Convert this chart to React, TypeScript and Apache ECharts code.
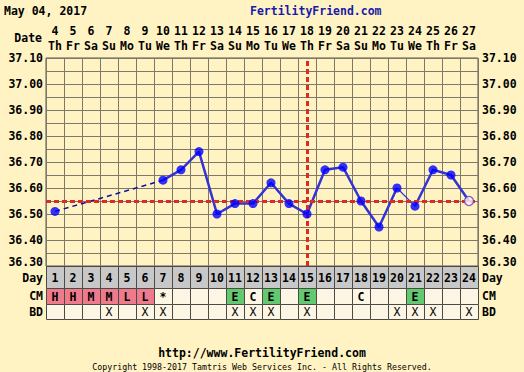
import React, { useEffect, useRef } from "react";
import * as echarts from "echarts";

// ---- data ----
const days = ["1","2","3","4","5","6","7","8","9","10","11","12","13","14","15","16","17","18","19","20","21","22","23","24"];
const dates = ["4","5","6","7","8","9","10","11","12","13","14","15","16","17","18","19","20","21","22","23","24","25","26","27"];
const weekdays = ["Th","Fr","Sa","Su","Mo","Tu","We","Th","Fr","Sa","Su","Mo","Tu","We","Th","Fr","Sa","Su","Mo","Tu","We","Th","Fr","Sa"];
const temps: (number | null)[] = [36.51, null, null, null, null, null, 36.63, 36.67, 36.74, 36.50, 36.54, 36.54, 36.62, 36.54, 36.50, 36.67, 36.68, 36.55, 36.45, 36.60, 36.53, 36.67, 36.65, 36.55];
const cmObs = ["H","H","M","M","L","L","*","","","","E","C","E","","E","","","C","","","E","","",""];
const bdObs = ["","","","X","","X","X","","","","X","X","X","","X","","","","","X","X","X","","X"];
const rowLabels = ["Day", "CM", "BD"];
const coverline = 36.55;
const ovulationDay = "15";
const thinSegment = [19, 20]; // indices of days 20-21
const hollowIndex = 23;
const headerDate = "May 04, 2017";
const siteName = "FertilityFriend.com";
const footerUrl = "http://www.FertilityFriend.com";
const copyright = "Copyright 1998-2017 Tamtris Web Services Inc. - All Rights Reserved.";

// ---- styling / layout ----
const FONT = '"DejaVu Sans Mono", monospace';
const BG = "#fff3c4";
const GRID_L = 46, GRID_W = 432, GRID_T = 58, GRID_H = 208;
const rowBounds = [[0, 22], [22, 38], [38, 53]];
const rowCenters = [277.5, 296, 311.5];

export default function App() {
  const ref = useRef<HTMLDivElement>(null);
  useEffect(() => {
    if (!ref.current) return;
    const chart = echarts.init(ref.current, undefined, { renderer: "svg" });

    const firstNext = temps.findIndex((t, i) => i > 0 && t != null);
    const dashed = temps.map((t, i) => (i === 0 || i === firstNext ? t : null));
    const segA = temps.map((t, i) => (i >= firstNext && i <= thinSegment[0] ? t : null));
    const segThin = temps.map((t, i) => (i >= thinSegment[0] && i <= thinSegment[1] ? t : null));
    const segB = temps.map((t, i) => (i >= thinSegment[1] ? t : null));
    const solidPts = temps.map((t, i) => (i === hollowIndex ? null : t));
    const hollowPts = temps.map((t, i) => (i === hollowIndex ? t : null));

    type Cell = { day: number; row: number; text: string; fill: string; bold: boolean };
    const cells: Cell[] = [];
    days.forEach((d, i) => {
      cells.push({ day: i, row: 0, text: d, fill: "#c8c8c8", bold: true });
      const cm = cmObs[i];
      const cmFill = cm === "H" || cm === "M" || cm === "L" ? "#ee7a8c" : cm === "E" ? "#63c96f" : "#fdf6e4";
      cells.push({ day: i, row: 1, text: cm, fill: cmFill, bold: true });
      cells.push({ day: i, row: 2, text: bdObs[i], fill: "#fdf6e4", bold: false });
    });

    const yLabelFmt = (v: number) => {
      if (Math.round(v * 100) % 10 !== 0) return "";
      const s = v.toFixed(2);
      return Math.abs(v - 36.3) < 1e-6 ? `{low|${s}}` : s;
    };
    const axisLabelStyle = { fontFamily: FONT, fontWeight: "bold" as const, fontSize: 11.5, color: "#000" };
    const richLow = { low: { fontFamily: FONT, fontWeight: "bold" as const, fontSize: 11.5, color: "#000", padding: [0, 0, 8, 0] } };

    const rowLabelTexts: any[] = [];
    rowLabels.forEach((lab, r) => {
      rowLabelTexts.push({ type: "text", x: 43, y: rowCenters[r], style: { text: lab, align: "right", verticalAlign: "middle", font: `bold 11.5px ${FONT}`, fill: "#000" } });
      rowLabelTexts.push({ type: "text", x: 482, y: rowCenters[r], style: { text: lab, align: "left", verticalAlign: "middle", font: `bold 11.5px ${FONT}`, fill: "#000" } });
    });

    chart.setOption({
      animation: false,
      backgroundColor: BG,
      grid: [
        { left: GRID_L, width: GRID_W, top: GRID_T, height: GRID_H, show: true, backgroundColor: BG, borderColor: "#5a5648", borderWidth: 1 },
        { left: GRID_L, width: GRID_W, top: 266, height: 53, show: false },
      ],
      xAxis: [
        {
          type: "category", gridIndex: 0, data: days, position: "top", boundaryGap: true,
          axisLine: { show: false }, axisTick: { show: false },
          splitLine: { show: true, interval: 0, lineStyle: { color: "#7d786a", width: 1 } },
          axisLabel: {
            interval: 0, margin: 5, lineHeight: 15, ...axisLabelStyle,
            formatter: (_v: string, i: number) => `${dates[i]}\n${weekdays[i]}`,
          },
        },
        { type: "category", gridIndex: 1, data: days, show: false, boundaryGap: true },
      ],
      yAxis: [
        {
          type: "value", gridIndex: 0, min: 36.3, max: 37.1, interval: 0.05, position: "left",
          axisLine: { show: false }, axisTick: { show: false },
          splitLine: { show: true, lineStyle: { color: "#7d786a", width: 1 } },
          axisLabel: { margin: 3, ...axisLabelStyle, formatter: yLabelFmt, rich: richLow },
        },
        {
          type: "value", gridIndex: 0, min: 36.3, max: 37.1, interval: 0.05, position: "right",
          axisLine: { show: false }, axisTick: { show: false }, splitLine: { show: false },
          axisLabel: { margin: 4, ...axisLabelStyle, formatter: yLabelFmt, rich: richLow },
        },
        { type: "value", gridIndex: 1, min: 0, max: 53, inverse: true, show: false },
      ],
      graphic: [
        { type: "text", x: 4, y: 11, style: { text: headerDate, verticalAlign: "middle", font: `bold 11.5px ${FONT}`, fill: "#000" } },
        { type: "text", x: 250, y: 11, style: { text: siteName, verticalAlign: "middle", font: `bold 11.5px ${FONT}`, fill: "#1a1aa8" } },
        { type: "text", x: 42, y: 38, style: { text: "Date", align: "right", verticalAlign: "middle", font: `bold 11.5px ${FONT}`, fill: "#000" } },
        ...rowLabelTexts,
        { type: "text", x: 262, y: 353, style: { text: footerUrl, align: "center", verticalAlign: "middle", font: `bold 11.5px ${FONT}`, fill: "#000" } },
        { type: "text", x: 262, y: 367, style: { text: copyright, align: "center", verticalAlign: "middle", font: `8.3px ${FONT}`, fill: "#000" } },
      ],
      series: [
        {
          type: "line", xAxisIndex: 0, yAxisIndex: 0, data: [], silent: true, z: 1,
          markLine: {
            silent: true, symbol: ["none", "none"], label: { show: false },
            lineStyle: { color: "#dd2a22", width: 3, type: [5, 3] },
            data: [{ yAxis: coverline }, { xAxis: ovulationDay }],
          },
        },
        {
          type: "line", data: dashed, connectNulls: true, showSymbol: false, z: 2,
          lineStyle: { color: "#10109a", width: 1.5, type: [5, 4] },
        },
        { type: "line", data: segA, showSymbol: false, z: 3, lineStyle: { color: "#3434d2", width: 2.5 } },
        { type: "line", data: segThin, showSymbol: false, z: 3, lineStyle: { color: "#3434d2", width: 1.2 } },
        { type: "line", data: segB, showSymbol: false, z: 3, lineStyle: { color: "#3434d2", width: 2.5 } },
        { type: "scatter", data: solidPts, symbol: "circle", symbolSize: 9, z: 5, itemStyle: { color: "#0000ff" } },
        { type: "scatter", data: hollowPts, symbol: "circle", symbolSize: 9, z: 5, itemStyle: { color: "#fff4f4", borderColor: "#6a3cc8", borderWidth: 1.3 } },
        {
          type: "custom", xAxisIndex: 1, yAxisIndex: 2, z: 2,
          data: cells.map((c) => [c.day, c.row]),
          renderItem: (params: any, api: any) => {
            const c = cells[params.dataIndex];
            const [y0, y1] = rowBounds[c.row];
            const p0 = api.coord([c.day, y0]);
            const p1 = api.coord([c.day, y1]);
            const w = api.size([1, 0])[0];
            const x = Math.round(p0[0] - w / 2) + 0.5;
            const top = Math.round(p0[1]) + 0.5;
            const h = Math.round(p1[1] - p0[1]);
            return {
              type: "group",
              children: [
                { type: "rect", shape: { x, y: top, width: Math.round(w), height: h }, style: { fill: c.fill, stroke: "#4c4a44", lineWidth: 1 } },
                { type: "text", style: { text: c.text, x: p0[0], y: (p0[1] + p1[1]) / 2 + 0.5, align: "center", verticalAlign: "middle", font: `${c.bold ? "bold " : ""}11.5px ${FONT}`, fill: "#000" } },
              ],
            };
          },
        },
      ],
    });
    return () => chart.dispose();
  }, []);
  return <div ref={ref} style={{ position: "fixed", left: 0, top: 0, width: 524, height: 372, background: BG }} />;
}
